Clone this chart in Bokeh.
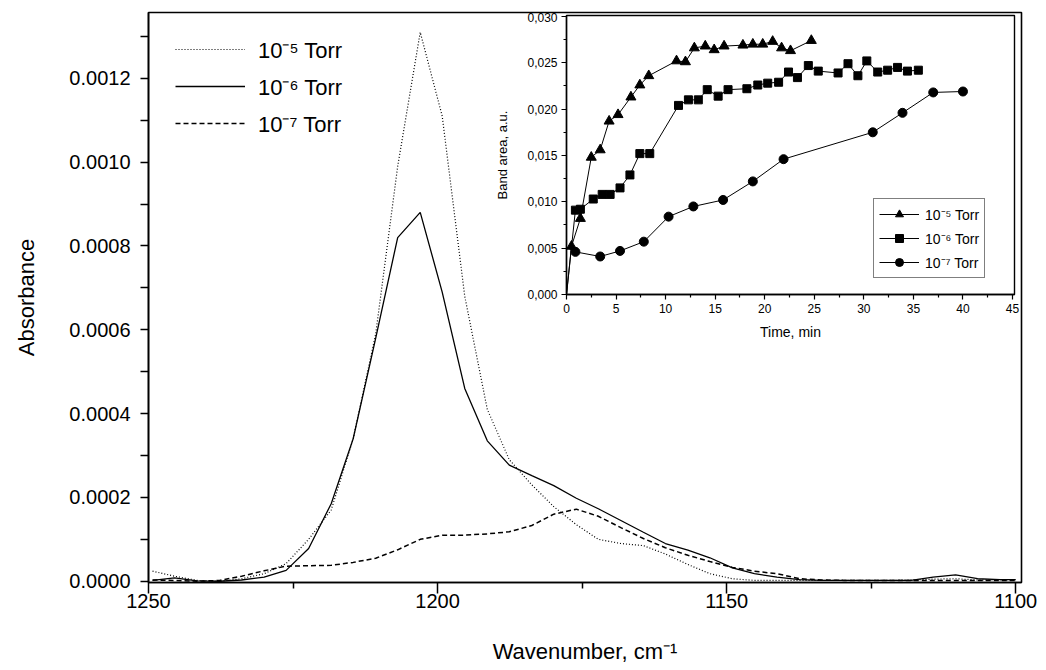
from bokeh.plotting import figure
from bokeh.models import (Range1d, Legend, LegendItem, CustomJSTickFormatter,
                          FixedTicker, PrintfTickFormatter)
from bokeh.layouts import column
from bokeh.embed import file_html
from bokeh.resources import INLINE

# ---------------- main spectra ----------------
wavenumber = [1249.3, 1245.5, 1241.6, 1237.7, 1233.9, 1230.0, 1226.2, 1222.3,
              1218.4, 1214.6, 1210.7, 1206.9, 1203.0, 1199.2, 1195.3, 1191.4,
              1187.6, 1183.7, 1179.9, 1176.0, 1172.2, 1168.3, 1164.4, 1160.6,
              1156.7, 1152.9, 1149.0, 1145.2, 1141.3, 1137.4, 1133.6, 1129.7,
              1125.9, 1122.0, 1118.1, 1114.3, 1110.4, 1106.6, 1102.7, 1100.0]

abs_1e5 = [0.000024, 0.000012, 0.000002, 0.0, 0.000006, 0.000018, 0.000042, 0.000100,
           0.000170, 0.000340, 0.000590, 0.000990, 0.001310, 0.001110, 0.000680, 0.000410,
           0.000290, 0.000230, 0.000178, 0.000135, 0.000100, 0.000090, 0.000085, 0.000065,
           0.000040, 0.000018, 0.000006, 0.000002, 0.000002, 0.000002, 0.000002, 0.000002,
           0.000002, 0.000002, 0.000003, 0.000005, 0.000006, 0.000003, 0.000003, 0.000003]

abs_1e6 = [0.000002, 0.000008, 0.000001, 0.0, 0.000003, 0.000010, 0.000026, 0.000078,
           0.000185, 0.000340, 0.000580, 0.000820, 0.000880, 0.000690, 0.000460, 0.000335,
           0.000277, 0.000252, 0.000228, 0.000198, 0.000173, 0.000145, 0.000117, 0.000090,
           0.000074, 0.000056, 0.000032, 0.000018, 0.000010, 0.000004, 0.000002, 0.000002,
           0.000002, 0.000002, 0.000002, 0.000010, 0.000015, 0.000006, 0.000004, 0.000004]

abs_1e7 = [0.000003, 0.000002, 0.0, 0.000002, 0.000012, 0.000025, 0.000036, 0.000037,
           0.000038, 0.000045, 0.000055, 0.000075, 0.000100, 0.000110, 0.000110, 0.000113,
           0.000118, 0.000133, 0.000160, 0.000172, 0.000155, 0.000128, 0.000102, 0.000080,
           0.000062, 0.000047, 0.000033, 0.000024, 0.000018, 0.000006, 0.000003, 0.000002,
           0.000002, 0.000002, 0.000002, 0.000002, 0.000002, 0.000002, 0.000002, 0.000002]

series_labels = ["10\u207b\u2075 Torr", "10\u207b\u2076 Torr", "10\u207b\u2077 Torr"]

x_ticks = [1250, 1200, 1150, 1100]
x_minor = [1225, 1175, 1125]
y_ticks = [0.0, 0.0002, 0.0004, 0.0006, 0.0008, 0.0010, 0.0012]
y_minor = [0.0001, 0.0003, 0.0005, 0.0007, 0.0009, 0.0011, 0.0013]

# ---------------- inset kinetics ----------------
t_1e5 = [0.0, 0.5, 1.4, 2.5, 3.4, 4.3, 5.2, 6.5, 7.4, 8.3, 11.1, 12.0, 12.9,
         14.0, 14.9, 15.9, 17.8, 18.8, 19.8, 20.8, 21.7, 22.6, 24.7]
area_1e5 = [0.0, 0.0052, 0.0082, 0.0148, 0.0156, 0.0187, 0.0194, 0.0213, 0.0226,
            0.0236, 0.0252, 0.0251, 0.0266, 0.0268, 0.0264, 0.0268, 0.0269, 0.0270,
            0.0270, 0.0273, 0.0266, 0.0263, 0.0274]

t_1e6 = [0.0, 0.9, 1.4, 2.7, 3.6, 4.4, 5.4, 6.4, 7.4, 8.4, 11.3, 12.3, 13.3, 14.2,
         15.3, 16.3, 18.2, 19.3, 20.3, 21.4, 22.4, 23.3, 24.4, 25.4, 27.4, 28.4,
         29.4, 30.3, 31.4, 32.4, 33.4, 34.4, 35.5]
area_1e6 = [0.0, 0.0091, 0.0092, 0.0103, 0.0108, 0.0108, 0.0115, 0.0129, 0.0152,
            0.0152, 0.0204, 0.0210, 0.0210, 0.0221, 0.0214, 0.0221, 0.0222, 0.0226,
            0.0228, 0.0229, 0.0240, 0.0234, 0.0247, 0.0241, 0.0239, 0.0249, 0.0236,
            0.0252, 0.0240, 0.0242, 0.0245, 0.0241, 0.0242]

t_1e7 = [0.0, 0.9, 3.4, 5.4, 7.8, 10.3, 12.8, 15.8, 18.8, 21.9, 30.9, 33.9, 37.0, 40.0]
area_1e7 = [0.0051, 0.0046, 0.0041, 0.0047, 0.0057, 0.0084, 0.0095, 0.0102, 0.0122,
            0.0146, 0.0175, 0.0196, 0.0218, 0.0219]

inset_x_ticks = [0, 5, 10, 15, 20, 25, 30, 35, 40, 45]
inset_x_minor = [2.5, 7.5, 12.5, 17.5, 22.5, 27.5, 32.5, 37.5, 42.5]
inset_y_ticks = [0.0, 0.005, 0.010, 0.015, 0.020, 0.025, 0.030]
inset_y_minor = [0.0025, 0.0075, 0.0125, 0.0175, 0.0225, 0.0275]

FONT = "Liberation Sans"

# ================= main figure =================
p = figure(width=1040, height=666, output_backend="svg", toolbar_location=None,
           x_range=Range1d(1250, 1099), y_range=Range1d(-0.000003, 0.001357),
           min_border_left=148, min_border_right=19, min_border_top=12,
           min_border_bottom=83)
p.frame_align = False
p.background_fill_color = "white"
p.border_fill_color = "white"
p.outline_line_color = "black"
p.outline_line_width = 1.6
p.xgrid.visible = False
p.ygrid.visible = False

r_a = p.line(wavenumber, abs_1e5, line_color="black", line_width=1.2, line_dash="1 2")
r_b = p.line(wavenumber, abs_1e6, line_color="black", line_width=1.3)
r_c = p.line(wavenumber, abs_1e7, line_color="black", line_width=1.5, line_dash="5 3")

for ax in (p.xaxis[0], p.yaxis[0]):
    ax.axis_line_width = 1.6
    ax.axis_line_color = "black"
    ax.major_tick_line_color = "black"
    ax.minor_tick_line_color = "black"
    ax.major_tick_line_width = 1.5
    ax.minor_tick_line_width = 1.5
    ax.major_tick_in = 0
    ax.minor_tick_in = 0
    ax.major_label_text_font = FONT
    ax.major_label_text_font_size = "20px"
    ax.major_label_text_color = "black"
    ax.axis_label_text_font = FONT
    ax.axis_label_text_font_style = "normal"
    ax.axis_label_text_font_size = "22px"
    ax.axis_label_text_color = "black"

p.xaxis[0].ticker = FixedTicker(ticks=x_ticks, minor_ticks=x_minor)
p.xaxis[0].major_tick_out = 11
p.xaxis[0].minor_tick_out = 6
p.xaxis[0].major_label_standoff = 0
p.xaxis[0].axis_label = "Wavenumber, cm\u207b\u00b9"
p.xaxis[0].axis_label_standoff = 28

p.yaxis[0].ticker = FixedTicker(ticks=y_ticks, minor_ticks=y_minor)
p.yaxis[0].formatter = PrintfTickFormatter(format="%.4f")
p.yaxis[0].major_tick_out = 8
p.yaxis[0].minor_tick_out = 8
p.yaxis[0].major_label_standoff = 10
p.yaxis[0].axis_label = "Absorbance"
p.yaxis[0].axis_label_standoff = 27

leg = Legend(items=[LegendItem(label=series_labels[0], renderers=[r_a]),
                    LegendItem(label=series_labels[1], renderers=[r_b]),
                    LegendItem(label=series_labels[2], renderers=[r_c])],
             location=(27, 444))
leg.margin = 0
leg.padding = 5
leg.spacing = 7
leg.glyph_width = 70
leg.glyph_height = 30
leg.label_height = 30
leg.label_standoff = 13
leg.label_text_font = FONT
leg.label_text_font_size = "22px"
leg.label_text_color = "black"
leg.border_line_color = None
leg.background_fill_alpha = 0
p.add_layout(leg)

# ================= inset figure =================
q = figure(width=530, height=334, output_backend="svg", toolbar_location=None,
           x_range=Range1d(0, 45.2), y_range=Range1d(0, 0.0301),
           min_border_left=74, min_border_right=8, min_border_top=3,
           min_border_bottom=52)
q.frame_align = False
q.background_fill_color = "white"
q.border_fill_alpha = 0
q.outline_line_color = "black"
q.outline_line_width = 1.4
q.xgrid.visible = False
q.ygrid.visible = False

l1 = q.line(t_1e5, area_1e5, line_color="black", line_width=1)
m1 = q.scatter(t_1e5[1:], area_1e5[1:], marker="triangle", size=10, color="black")
l2 = q.line(t_1e6, area_1e6, line_color="black", line_width=1)
m2 = q.scatter(t_1e6[1:], area_1e6[1:], marker="square", size=8, color="black")
l3 = q.line(t_1e7, area_1e7, line_color="black", line_width=1)
m3 = q.scatter(t_1e7[1:], area_1e7[1:], marker="circle", size=9, color="black")

for ax in (q.xaxis[0], q.yaxis[0]):
    ax.axis_line_width = 1.4
    ax.axis_line_color = "black"
    ax.major_tick_line_color = "black"
    ax.minor_tick_line_color = "black"
    ax.major_tick_line_width = 1.2
    ax.minor_tick_line_width = 1.2
    ax.major_tick_in = 0
    ax.minor_tick_in = 0
    ax.major_tick_out = 5
    ax.minor_tick_out = 3
    ax.major_label_text_font = FONT
    ax.major_label_text_font_size = "12px"
    ax.major_label_text_color = "black"
    ax.axis_label_text_font = FONT
    ax.axis_label_text_font_style = "normal"
    ax.axis_label_text_color = "black"

q.xaxis[0].ticker = FixedTicker(ticks=inset_x_ticks, minor_ticks=inset_x_minor)
q.xaxis[0].major_label_standoff = 4
q.xaxis[0].axis_label = "Time, min"
q.xaxis[0].axis_label_text_font_size = "14px"
q.xaxis[0].axis_label_standoff = 8

q.yaxis[0].ticker = FixedTicker(ticks=inset_y_ticks, minor_ticks=inset_y_minor)
q.yaxis[0].formatter = CustomJSTickFormatter(code="return tick.toFixed(3).replace('.', ',');")
q.yaxis[0].major_label_standoff = 4
q.yaxis[0].axis_label = "Band area, a.u."
q.yaxis[0].axis_label_text_font_size = "13px"
q.yaxis[0].axis_label_standoff = 14

ileg = Legend(items=[LegendItem(label=series_labels[0], renderers=[l1, m1]),
                     LegendItem(label=series_labels[1], renderers=[l2, m2]),
                     LegendItem(label=series_labels[2], renderers=[l3, m3])],
              location=(307, 16))
ileg.margin = 0
ileg.padding = 5
ileg.spacing = 4
ileg.glyph_width = 40
ileg.glyph_height = 20
ileg.label_height = 20
ileg.label_standoff = 6
ileg.label_text_font = FONT
ileg.label_text_font_size = "14px"
ileg.label_text_color = "black"
ileg.border_line_color = "black"
ileg.border_line_width = 1
ileg.background_fill_color = "white"
ileg.background_fill_alpha = 1
q.add_layout(ileg)

q.styles = {"position": "absolute", "left": "492px", "top": "12px"}

layout = column(p, q)
open("out.html", "w").write(file_html(layout, INLINE))
